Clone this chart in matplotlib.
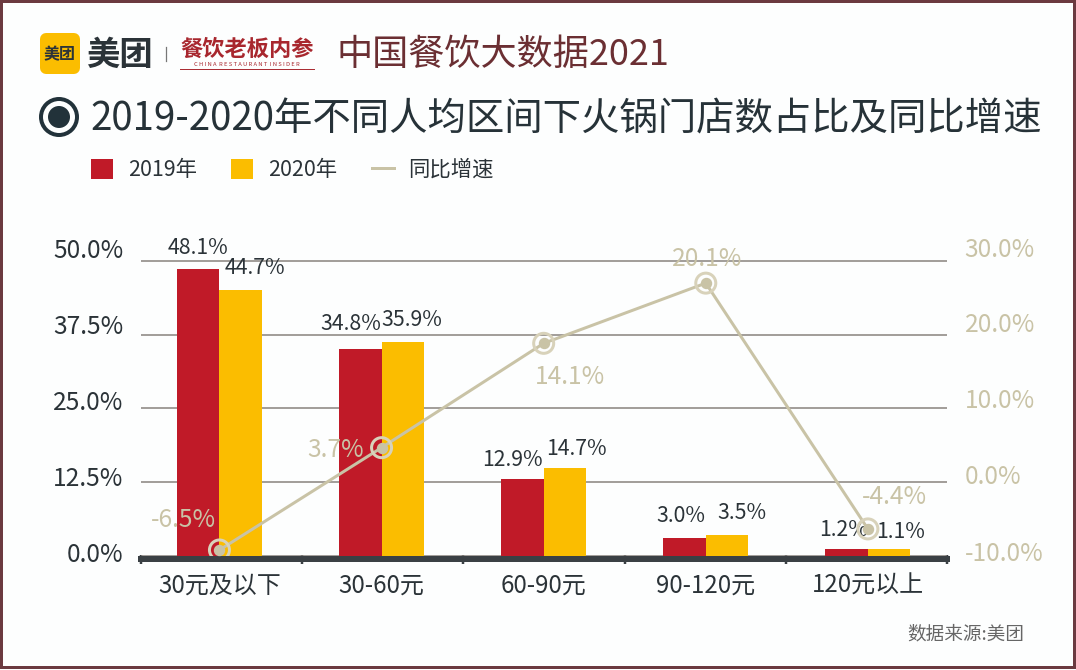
import numpy as np
import matplotlib
matplotlib.use('Agg')
import matplotlib.pyplot as plt
from matplotlib.patches import Rectangle, FancyBboxPatch, Circle

plt.rcParams['font.family'] = ['Noto Sans CJK SC', 'DejaVu Sans']

# dades
categories = ['30元及以下', '30-60元', '60-90元', '90-120元', '120元以上']
share_2019 = [48.1, 34.8, 12.9, 3.0, 1.2]
share_2020 = [44.7, 35.9, 14.7, 3.5, 1.1]
growth = [-6.5, 3.7, 14.1, 20.1, -4.4]
left_ticks = [0, 12.5, 25, 37.5, 50]
left_labels = ['0.0%', '12.5%', '25.0%', '37.5%', '50.0%']
right_labels = ['-10.0%', '0.0%', '10.0%', '20.0%', '30.0%']

# estils
RED = '#c01a28'
YELLOW = '#fbbd00'
BEIGE = '#c9c3a6'
DARK = '#2b3338'
MAROON = '#6b3a40'
W, H = 1076, 670
PX = 72 / 100  # punts per pixel

# desplaçaments de les etiquetes (pixels)
off_2019 = [(0, 21), (-10, 25), (-10, 19), (-4, 22), (-3, 19)]
off_2020 = [(14, 22), (9, 22), (12, 19), (15, 22), (11, 17)]
off_growth = [(-36, 30), (-46, -2), (26, -34), (1, 24), (27, 32)]

fig = plt.figure(figsize=(W / 100, H / 100), dpi=100, facecolor='#fdfefe')

# capa de fons en pixels: capçalera, marc
bg = fig.add_axes([0, 0, 1, 1], zorder=0)
bg.set_xlim(0, W)
bg.set_ylim(H, 0)
bg.axis('off')
bg.add_patch(Rectangle((1, 1), 1073, 666, fill=False, ec=MAROON, lw=3 * PX))

bg.add_patch(FancyBboxPatch((46, 39), 28, 29, boxstyle='round,pad=0,rounding_size=0', fc=YELLOW, ec=YELLOW, lw=12 * PX, joinstyle='round'))
bg.text(60, 54, '美团', fontsize=11.5, fontweight='bold', color=DARK, ha='center', va='center')
bg.text(119, 55, '美团', fontsize=24, fontweight='bold', color=DARK, ha='center', va='center')
bg.plot([166, 166], [47, 61], color='#777777', lw=0.9)
bg.text(247, 49, '餐饮老板内参', fontsize=16, fontweight='bold', color='#a8272e', ha='center', va='center')
bg.text(247, 64, 'C H I N A  R E S T A U R A N T  I N S I D E R', fontsize=4.2, color='#a8272e', ha='center', va='center')
bg.plot([180, 314], [69, 69], color='#a8272e', lw=0.7)
bg.text(336, 55, '中国餐饮大数据2021', fontsize=26, fontweight='medium', color='#6b2f33', ha='left', va='center')

bg.add_patch(Circle((59, 117), 18, fill=False, ec='#22323a', lw=4 * PX))
bg.add_patch(Circle((59, 117), 11, fc='#22323a', ec='none'))
bg.text(90, 120, '2019-2020年不同人均区间下火锅门店数占比及同比增速', fontsize=27.65, color='#263238', ha='left', va='center')
bg.text(1024, 634, '数据来源:美团', fontsize=13.4, color='#666666', ha='right', va='center')

# eixos: x 141..947, y 556..240
ax = fig.add_axes([141 / W, 1 - 556 / H, 806 / W, 316 / H], zorder=1)
ax.patch.set_alpha(0)
x = np.arange(len(categories))
xlim = (-0.484, 4.488)
ylim1 = 53.02
bar_w = 0.262
b1 = ax.bar(x - bar_w / 2, share_2019, bar_w, color=RED, zorder=3, label='2019年')
b2 = ax.bar(x + bar_w / 2, share_2020, bar_w, color=YELLOW, zorder=3, label='2020年')
ax.set_xlim(xlim)
ax.set_ylim(0, ylim1)

# reixa a les marques majors (una mica per sota de l'escala de les barres, com a l'original),
# etiquetes desplaçades a les menors
ax.set_yticks([t * 0.99 for t in left_ticks], labels=[])
ax.grid(axis='y', color='#8a8580', lw=1.3 * PX * 1.2, zorder=1)
ax.tick_params(axis='y', which='major', length=0)
left_frac = [0.014, 0.253, 0.494, 0.734, 0.975]
ax.set_yticks([f * ylim1 for f in left_frac], labels=left_labels, minor=True)
ax.tick_params(axis='y', which='minor', length=0, pad=12.7, labelsize=17.7, labelcolor=DARK)

ax.set_xticks(x, labels=categories)
ax.tick_params(axis='x', which='major', length=0, pad=9.7, labelsize=17.3, labelcolor=DARK)
ax.set_xticks(np.linspace(xlim[0], xlim[1], 6), minor=True)
ax.tick_params(axis='x', which='minor', length=9 * PX, width=2.5 * PX, color='#3a4044', direction='inout')

for s in ['top', 'left', 'right']:
    ax.spines[s].set_visible(False)
ax.spines['bottom'].set_position(('outward', 3 * PX))
ax.spines['bottom'].set_linewidth(6 * PX)
ax.spines['bottom'].set_color('#3a4044')

for xi, v, o in zip(x - bar_w / 2, share_2019, off_2019):
    ax.annotate(f'{v:.1f}%', (xi, v), xytext=(o[0] * PX, o[1] * PX), textcoords='offset points',
                ha='center', va='center', fontsize=15.3, color=DARK, zorder=4)
for xi, v, o in zip(x + bar_w / 2, share_2020, off_2020):
    ax.annotate(f'{v:.1f}%', (xi, v), xytext=(o[0] * PX, o[1] * PX), textcoords='offset points',
                ha='center', va='center', fontsize=15.3, color=DARK, zorder=4)

# eix dret: l'escala de la línia no coincideix amb les etiquetes, igual que a l'original
ax2 = ax.twinx()
ax2.patch.set_alpha(0)
ylim2 = (-7.1, 24.4)
ln, = ax2.plot(x, growth, color=BEIGE, lw=3 * PX, zorder=5, label='同比增速')
ax2.scatter(x, growth, s=(20 * PX) ** 2, facecolor='none', edgecolor='#d8d2ba', lw=3 * PX, zorder=6)
ax2.scatter(x, growth, s=(10 * PX) ** 2, color=BEIGE, zorder=7)
ax2.set_ylim(ylim2)
right_frac = [0.016, 0.259, 0.5, 0.741, 0.978]
ax2.set_yticks([ylim2[0] + f * (ylim2[1] - ylim2[0]) for f in right_frac], labels=right_labels)
ax2.tick_params(axis='y', length=0, pad=12.7, labelsize=17.7, labelcolor=BEIGE)
for s in ax2.spines.values():
    s.set_visible(False)
for xi, v, o in zip(x, growth, off_growth):
    ax2.annotate(f'{v:.1f}%', (xi, v), xytext=(o[0] * PX, o[1] * PX), textcoords='offset points',
                 ha='center', va='center', fontsize=17.7, color=BEIGE, zorder=8)

fig.legend(handles=[b1, b2, ln], loc='center left', bbox_to_anchor=(91 / W, 1 - 170 / H), ncol=3,
           frameon=False, fontsize=15.4, labelcolor=DARK, handlelength=1.03, handleheight=1.03,
           handletextpad=0.7, columnspacing=1.6, borderpad=0, borderaxespad=0)

fig.savefig('out.png', dpi=100, facecolor=fig.get_facecolor())
